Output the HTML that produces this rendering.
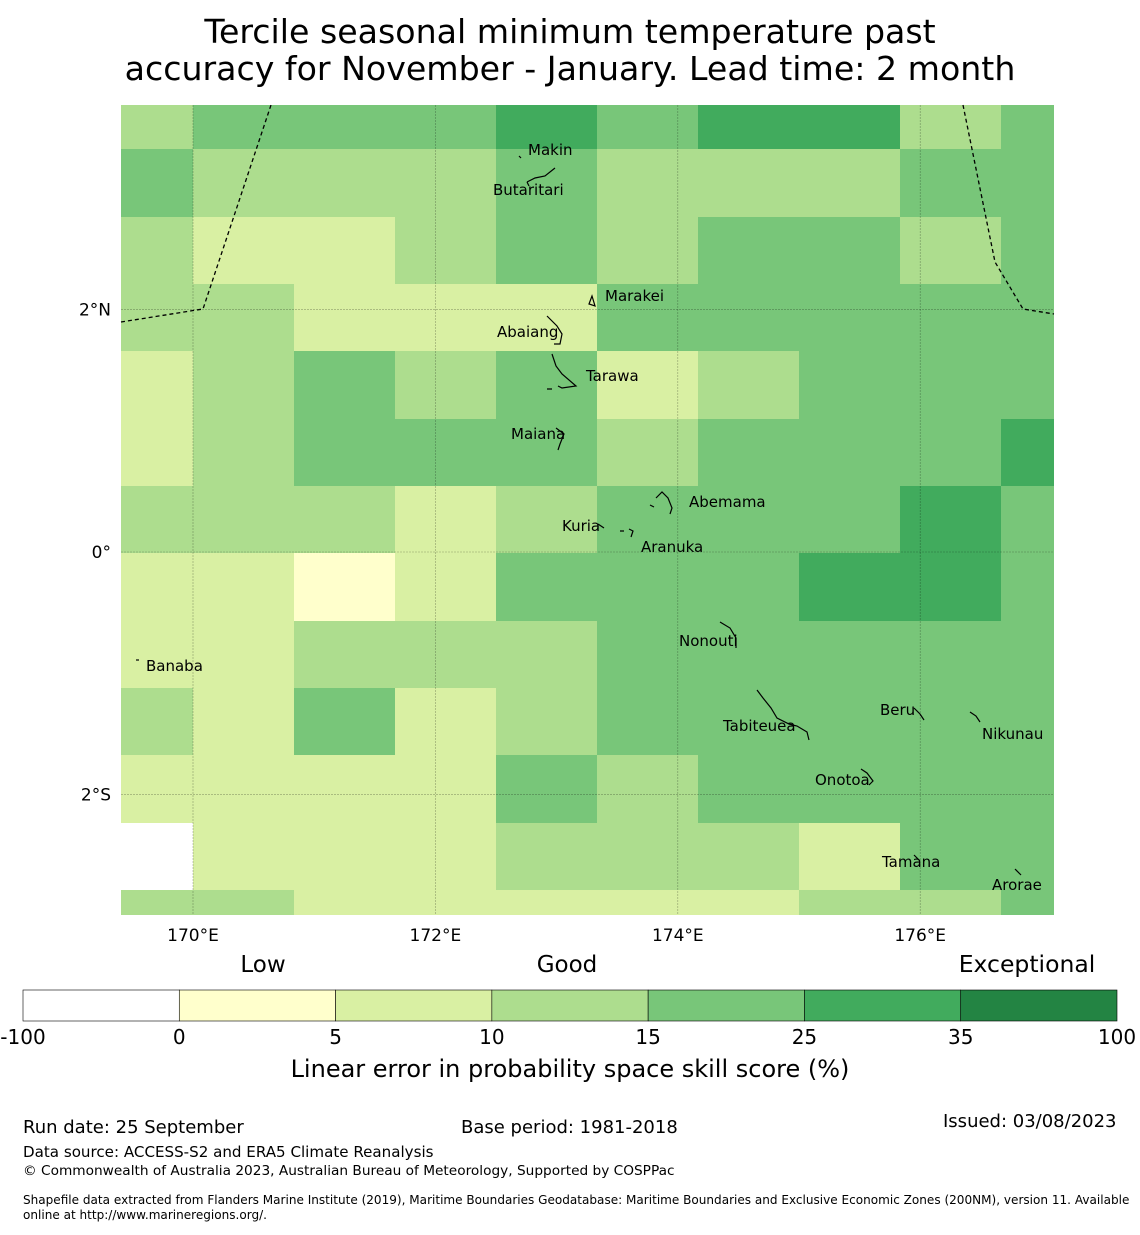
<!DOCTYPE html>
<html><head><meta charset="utf-8">
<style>
body{margin:0;background:#fff;font-family:"Liberation Sans","DejaVu Sans",sans-serif;}
svg text{font-family:"DejaVu Sans","Liberation Sans",sans-serif;}
</style></head>
<body>
<svg id="chart" width="1140" height="1230" viewBox="0 0 1140 1230" xmlns="http://www.w3.org/2000/svg">
<text x="570" y="43" font-size="33.2" text-anchor="middle">Tercile seasonal minimum temperature past</text>
<text x="570" y="80" font-size="33.2" text-anchor="middle">accuracy for November - January. Lead time: 2 month</text>
<g id="cells"></g>
<g id="grid"></g>
<g fill="none" stroke="#000" stroke-width="1.3" stroke-dasharray="4,3">
<polyline points="121,322 203,309 271,105"/>
<polyline points="963,105 995,262 1023,309 1054,314"/>
</g>
<g fill="none" stroke="#000" stroke-width="1.2">
<path d="M519,156 l2,2 M527,182 l8,-4 l10,-2 l10,-8 M527,182 l2,4"/>
<path d="M589,304 l3,-8 l3,10 z"/>
<path d="M547,316 l10,10 l5,8 l-2,10 l-6,0"/>
<path d="M552,354 l4,12 l6,8 l14,12 l-14,2 l-4,-2 M547,389 l5,0"/>
<path d="M556,428 l8,6 l-4,10 l-2,6"/>
<path d="M656,498 l6,-6 l6,6 l4,10 l-2,6 M650,505 l4,2"/>
<path d="M598,524 l6,4 M620,531 l4,0 M629,529 l4,2 l-2,6"/>
<path d="M720,622 l10,6 l6,10 l0,10"/>
<path d="M136,660 l3,0"/>
<path d="M757,690 l6,8 l8,10 l6,10 l12,6 l8,2 l10,6 l2,8"/>
<path d="M914,708 l6,6 l4,6"/>
<path d="M970,712 l6,4 l4,6"/>
<path d="M861,769 l6,4 l6,8 l-4,4"/>
<path d="M914,855 l6,6"/>
<path d="M1015,869 l6,6"/>
</g>
<g font-size="15" fill="#000">
<text x="528" y="155">Makin</text><text x="493" y="195">Butaritari</text>
<text x="605" y="301">Marakei</text><text x="497" y="337">Abaiang</text>
<text x="586" y="381">Tarawa</text><text x="511" y="439">Maiana</text>
<text x="689" y="507">Abemama</text><text x="562" y="531">Kuria</text>
<text x="641" y="552">Aranuka</text><text x="679" y="646">Nonouti</text>
<text x="146" y="671">Banaba</text><text x="880" y="715">Beru</text>
<text x="723" y="731">Tabiteuea</text><text x="982" y="739">Nikunau</text>
<text x="815" y="785">Onotoa</text><text x="882" y="867">Tamana</text>
<text x="992" y="890">Arorae</text>
</g>
<g id="axes" font-size="17"></g>
<g id="cbar"></g>
<text x="263" y="972" font-size="23" text-anchor="middle">Low</text>
<text x="567" y="972" font-size="23" text-anchor="middle">Good</text>
<text x="1027" y="972" font-size="23.5" text-anchor="middle">Exceptional</text>
<text x="570" y="1077" font-size="24" text-anchor="middle">Linear error in probability space skill score (%)</text>
<g fill="#000">
<text x="23" y="1133" font-size="18">Run date: 25 September</text>
<text x="461" y="1133" font-size="18">Base period: 1981-2018</text>
<text x="943" y="1127" font-size="18">Issued: 03/08/2023</text>
<text x="23" y="1157" font-size="15.1">Data source: ACCESS-S2 and ERA5 Climate Reanalysis</text>
<text x="23" y="1175" font-size="13.7">© Commonwealth of Australia 2023, Australian Bureau of Meteorology, Supported by COSPPac</text>
<text x="23" y="1204" font-size="12.05">Shapefile data extracted from Flanders Marine Institute (2019), Maritime Boundaries Geodatabase: Maritime Boundaries and Exclusive Economic Zones (200NM), version 11. Available</text>
<text x="23" y="1219" font-size="12.05">online at http://www.marineregions.org/.</text>
</g>
</svg>
<script>
const colEdges=[121,193,294,395,496,597,698,799,900,1001,1054];
const rowEdges=[105,149,217,284,351,419,486,553,621,688,755,823,890,915];
const skillRows=[
"M G G G D G D D M G",
"G M M M G M M M G G",
"M L L M G M G G M G",
"M M L L L G G G G G",
"L M G M G L M G G G",
"L M G G G M G G G D",
"M M M L M G G G D G",
"L L Y L G G G D D G",
"L L M M M G G G G G",
"M L G L M G G G G G",
"L L L L G M G G G G",
"W L L L M M M L G G",
"M M L L L L L M M G"];
const classValues={W:-50,Y:2,L:7,M:12,G:20,D:30};
const levels=[-100,0,5,10,15,25,35,100];
const levelColors=["#ffffff","#ffffcc","#d9f0a3","#addd8e","#78c679","#41ab5d","#238443"];
const lonTicks=[170,172,174,176];
const latTicks=[2,0,-2];
const lonTickLabels=["170°E","172°E","174°E","176°E"];
const latTickLabels=["2°N","0°","2°S"];
const NS="http://www.w3.org/2000/svg";
function xLon(l){return 193+(l-170)*121.2;}
function yLat(l){return 552-l*121.2;}
function colorFor(v){for(let i=0;i<7;i++){if(v<levels[i+1])return levelColors[i];}return levelColors[6];}
const cells=document.getElementById('cells');
skillRows.forEach((row,r)=>{row.split(' ').forEach((k,c)=>{
 const rc=document.createElementNS(NS,'rect');
 rc.setAttribute('x',colEdges[c]);rc.setAttribute('y',rowEdges[r]);
 rc.setAttribute('width',colEdges[c+1]-colEdges[c]);rc.setAttribute('height',rowEdges[r+1]-rowEdges[r]);
 rc.setAttribute('fill',colorFor(classValues[k]));
 
 
 cells.appendChild(rc);});});
const grid=document.getElementById('grid'),axes=document.getElementById('axes');
lonTicks.forEach((l,i)=>{const x=xLon(l);
 const ln=document.createElementNS(NS,'line');ln.setAttribute('x1',x);ln.setAttribute('x2',x);ln.setAttribute('y1',105);ln.setAttribute('y2',915);
 ln.setAttribute('stroke','#000');ln.setAttribute('stroke-opacity','0.35');ln.setAttribute('stroke-width','0.6');ln.setAttribute('stroke-dasharray','2,1');
 
 
 grid.appendChild(ln);
 const t=document.createElementNS(NS,'text');t.setAttribute('x',x);t.setAttribute('y',941);t.setAttribute('text-anchor','middle');t.textContent=lonTickLabels[i];
 
 
 axes.appendChild(t);});
latTicks.forEach((l,i)=>{const y=yLat(l);
 const ln=document.createElementNS(NS,'line');ln.setAttribute('x1',121);ln.setAttribute('x2',1054);ln.setAttribute('y1',y);ln.setAttribute('y2',y);
 ln.setAttribute('stroke','#000');ln.setAttribute('stroke-opacity','0.35');ln.setAttribute('stroke-width','0.6');ln.setAttribute('stroke-dasharray','2,1');
 
 
 grid.appendChild(ln);
 const t=document.createElementNS(NS,'text');t.setAttribute('x',111);t.setAttribute('y',y+6);t.setAttribute('text-anchor','end');t.textContent=latTickLabels[i];
 
 
 axes.appendChild(t);});
const cbar=document.getElementById('cbar');const w=(1117-23)/7;
levelColors.forEach((c,i)=>{const r=document.createElementNS(NS,'rect');
 r.setAttribute('x',23+i*w);r.setAttribute('y',990);r.setAttribute('width',w);r.setAttribute('height',31);r.setAttribute('fill',c);r.setAttribute('stroke','#000');r.setAttribute('stroke-width','0.6');
 
 
 cbar.appendChild(r);});
levels.forEach((v,i)=>{const t=document.createElementNS(NS,'text');
 t.setAttribute('x',23+i*w);t.setAttribute('y',1044);t.setAttribute('text-anchor','middle');t.setAttribute('font-size','20');t.textContent=v;
 
 
 cbar.appendChild(t);});
</script>
</body></html>
